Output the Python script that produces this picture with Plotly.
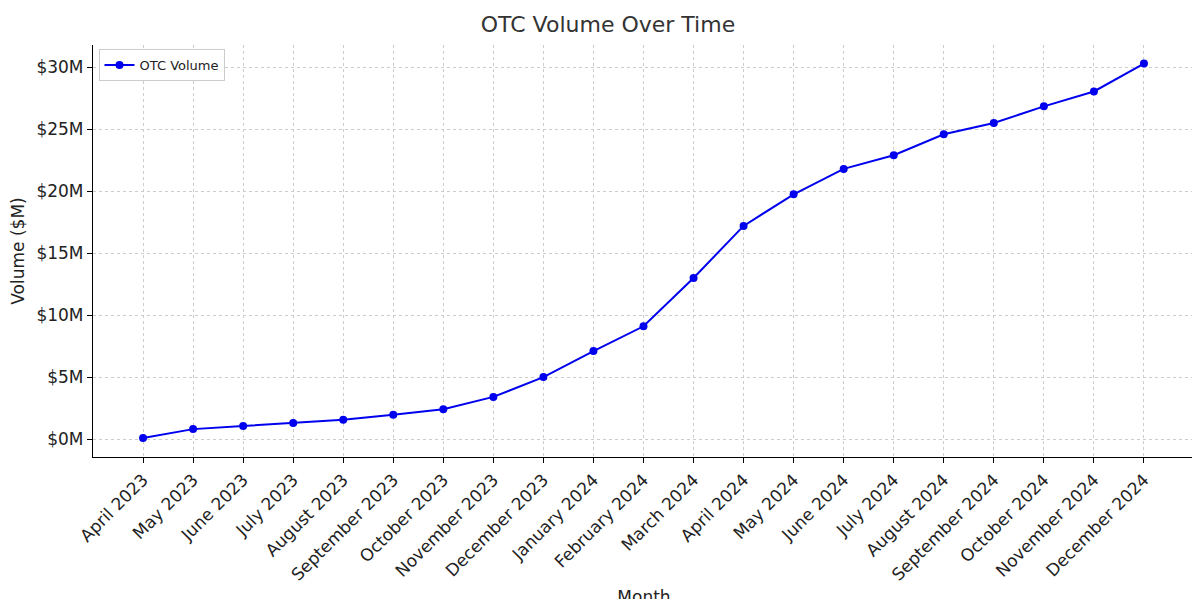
import plotly.graph_objects as go

# Data
months = [
    "April 2023", "May 2023", "June 2023", "July 2023", "August 2023",
    "September 2023", "October 2023", "November 2023", "December 2023",
    "January 2024", "February 2024", "March 2024", "April 2024", "May 2024",
    "June 2024", "July 2024", "August 2024", "September 2024",
    "October 2024", "November 2024", "December 2024",
]
volume_m = [
    0.08, 0.8, 1.05, 1.3, 1.55, 1.95, 2.4, 3.4, 5.0, 7.1, 9.1,
    13.0, 17.2, 19.75, 21.8, 22.9, 24.6, 25.5, 26.85, 28.05, 30.3,
]
y_ticks = [0, 5, 10, 15, 20, 25, 30]
y_labels = [f"${v}M" for v in y_ticks]

fig = go.Figure()
fig.add_trace(go.Scatter(
    x=list(range(len(months))), y=volume_m, mode="lines+markers", name="OTC Volume",
    line=dict(color="#0000ee", width=2), marker=dict(color="#0000ee", size=8),
))

axis_common = dict(
    showline=True, linecolor="black", linewidth=1.2, automargin=False,
    ticks="outside", ticklen=5, tickcolor="black",
    showgrid=True, gridcolor="#cccccc", griddash="3px,3px", gridwidth=1,
    zeroline=False, tickfont=dict(size=17, color="#222"),
)

fig.update_layout(
    width=1200, height=599,
    paper_bgcolor="white", plot_bgcolor="white",
    font=dict(family="DejaVu Sans", color="#222"),
    title=dict(text="OTC Volume Over Time", x=0.5, xanchor="center",
               y=0.985, yanchor="top", font=dict(size=22, color="#333")),
    margin=dict(l=85, r=13, t=37, b=150),
    showlegend=True,
    legend=dict(x=0.005, y=0.99, xanchor="left", yanchor="top",
                bgcolor="white", bordercolor="#cccccc", borderwidth=1,
                font=dict(size=13)),
    xaxis=dict(axis_common, tickmode="array", tickvals=list(range(len(months))),
               ticktext=months, tickangle=-45, range=[-1.0, 21.02],
               title=dict(text="Month", font=dict(size=17), standoff=10)),
    yaxis=dict(axis_common, tickmode="array", tickvals=y_ticks, ticktext=y_labels,
               range=[-1.45, 31.8],
               title=dict(text="Volume ($M)", font=dict(size=17))),
)

fig.write_html("out.html")
